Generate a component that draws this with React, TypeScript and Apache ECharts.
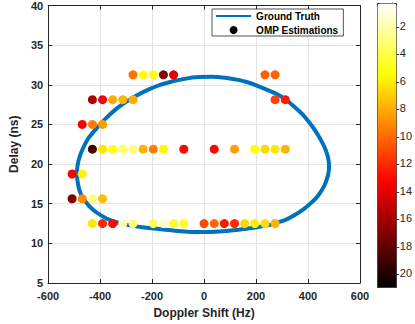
import React, { useEffect, useRef } from "react";
import * as echarts from "echarts";

// Ground truth curve (Doppler Hz, Delay ns)
const curveDoppler = [
  -490, -486, -476, -460, -444, -414, -380, -340, -297, -254, -210, -169, -120, -70, -20, 30, 80, 125, 161, 215,
  272, 310, 345, 378, 406, 432, 455, 470, 479, 481, 476, 463, 445, 431, 405, 382, 350, 320, 290, 259, 198, 150,
  113, 60, 15, -47, -100, -157, -230, -291, -330, -359, -395, -426, -452, -474, -484, -490,
];
const curveDelay = [
  18.7, 20.0, 21.2, 22.4, 23.3, 24.5, 25.7, 26.9, 27.9, 28.75, 29.45, 29.98, 30.45, 30.78, 30.97, 31.02, 30.9,
  30.65, 30.38, 29.75, 28.95, 28.25, 27.3, 26.3, 25.2, 24.0, 22.7, 21.6, 20.5, 19.6, 18.5, 17.3, 16.3, 15.7, 14.9,
  14.3, 13.6, 13.06, 12.7, 12.36, 12.0, 11.8, 11.65, 11.5, 11.42, 11.42, 11.55, 11.75, 12.0, 12.3, 12.6, 12.9,
  13.5, 14.2, 15.1, 16.2, 17.3, 18.7,
];

// OMP estimations: Doppler (Hz), Delay (ns), Power
const ompDoppler = [
  // 31.25 ns
  -273.4, -234.4, -195.3, -156.3, -117.2, 234.4, 273.4,
  // 28.125 ns
  -429.7, -390.6, -351.6, -312.5, -273.4, 273.4, 312.5,
  // 25 ns
  -468.8, -429.7, -390.6,
  // 21.875 ns
  -429.7, -390.6, -351.6, -312.5, -273.4, -234.4, -195.3, -156.3, -78.1, 39.1, 117.2, 195.3, 234.4, 273.4, 312.5,
  // 18.75 ns
  -507.8, -468.8,
  // 15.625 ns
  -507.8, -468.8, -429.7, -390.6,
  // 12.5 ns
  -429.7, -390.6, -351.6, -312.5, -273.4, -195.3, -156.3, -117.2, -78.1, 0, 39.1, 78.1, 117.2, 156.3, 195.3, 234.4, 273.4,
];
const ompDelay = [
  31.25, 31.25, 31.25, 31.25, 31.25, 31.25, 31.25,
  28.125, 28.125, 28.125, 28.125, 28.125, 28.125, 28.125,
  25, 25, 25,
  21.875, 21.875, 21.875, 21.875, 21.875, 21.875, 21.875, 21.875, 21.875, 21.875, 21.875, 21.875, 21.875, 21.875, 21.875,
  18.75, 18.75,
  15.625, 15.625, 15.625, 15.625,
  12.5, 12.5, 12.5, 12.5, 12.5, 12.5, 12.5, 12.5, 12.5, 12.5, 12.5, 12.5, 12.5, 12.5, 12.5, 12.5, 12.5,
];
const ompPower = [
  -9.8, -5.5, -5.3, -17, -14.2, -10.3, -10.3,
  -15.8, -13.4, -8, -7.8, -8, -11.3, -12.6,
  -13.5, -9.5, -8.5,
  -19, -6.3, -5.2, -3.5, -3, -7.8, -9.4, -5.8, -13.2, -13, -8.4, -5.5, -6.7, -6.2, -7.8,
  -13.3, -6,
  -17, -9, -3, -7.5,
  -6.2, -12, -13, -1.8, -3.2, -4, -1.5, -4.8, -5, -11, -10, -12.5, -12, -6.8, -6, -6.5, -7.8,
];

const colorbarTicks = [-20, -18, -16, -14, -12, -10, -8, -6, -4, -2];
const hotColors = ["#000000", "#550000", "#aa0000", "#ff0000", "#ff5500", "#ffaa00", "#ffff00", "#ffff80", "#ffffff"];

const FONT = "'Liberation Sans', Arial, Helvetica, sans-serif";
const AX = "#262626";

export default function App() {
  const ref = useRef<HTMLDivElement>(null);
  useEffect(() => {
    document.body.style.margin = "0";
    const chart = echarts.init(ref.current!, null, { renderer: "svg" });
    const curve = curveDoppler.map((d, i) => [d, curveDelay[i]]);
    const pts = ompDoppler.map((d, i) => [d, ompDelay[i], ompPower[i]]);
    const tickLabel = { fontFamily: FONT, fontWeight: "bold" as const, fontSize: 11, color: AX };
    chart.setOption({
      animation: false,
      backgroundColor: "#fff",
      textStyle: { fontFamily: FONT },
      grid: [
        { left: 33, top: 4, width: 327, height: 283, show: false },
        { left: 377, top: 3, width: 19, height: 284, show: false },
      ],
      xAxis: [
        {
          type: "value", gridIndex: 0, position: "bottom", min: -600, max: 600, interval: 200,
          name: "Doppler Shift (Hz)", nameLocation: "middle", nameGap: 24,
          nameTextStyle: { fontFamily: FONT, fontWeight: "bold", fontSize: 12, color: AX },
          axisLine: { show: true, onZero: false, lineStyle: { color: AX, width: 1 } },
          axisTick: { show: true, inside: true, length: 4, lineStyle: { color: AX } },
          axisLabel: { ...tickLabel, margin: 7 },
          splitLine: { show: true, lineStyle: { color: "#e3e3e3", width: 1 } },
        },
        {
          type: "value", gridIndex: 0, position: "top", min: -600, max: 600, interval: 200,
          axisLine: { show: true, onZero: false, lineStyle: { color: AX, width: 1 } },
          axisTick: { show: true, inside: true, length: 4, lineStyle: { color: AX } },
          axisLabel: { show: false }, splitLine: { show: false },
        },
        { type: "value", gridIndex: 1, min: 0, max: 1, show: false },
      ],
      yAxis: [
        {
          type: "value", gridIndex: 0, position: "left", min: 5, max: 40, interval: 5,
          name: "Delay (ns)", nameLocation: "middle", nameGap: 22, nameRotate: 90,
          nameTextStyle: { fontFamily: FONT, fontWeight: "bold", fontSize: 12, color: AX },
          axisLine: { show: true, onZero: false, lineStyle: { color: AX, width: 1 } },
          axisTick: { show: true, inside: true, length: 4, lineStyle: { color: AX } },
          axisLabel: { ...tickLabel, margin: 5 },
          splitLine: { show: true, lineStyle: { color: "#e3e3e3", width: 1 } },
        },
        {
          type: "value", gridIndex: 0, position: "right", min: 5, max: 40, interval: 5,
          axisLine: { show: true, onZero: false, lineStyle: { color: AX, width: 1 } },
          axisTick: { show: true, inside: true, length: 4, lineStyle: { color: AX } },
          axisLabel: { show: false }, splitLine: { show: false },
        },
        {
          type: "value", gridIndex: 1, position: "right", min: -21, max: -0.35,
          axisLine: { show: true, onZero: false, lineStyle: { color: AX, width: 1 } },
          axisTick: { show: true, inside: true, length: 3, customValues: colorbarTicks, lineStyle: { color: AX } },
          axisLabel: { customValues: colorbarTicks, fontFamily: FONT, fontSize: 11, color: AX, margin: 4 },
          splitLine: { show: false },
        },
      ],
      visualMap: {
        type: "continuous", min: -21, max: -0.35, dimension: 2, seriesIndex: 1,
        inRange: { color: hotColors }, calculable: false, hoverLink: false,
        left: 377, top: 3, itemWidth: 19, itemHeight: 284, padding: 0,
        text: ["", ""], showLabel: false,
        borderColor: AX, borderWidth: 1,
      },
      legend: {
        left: 212, top: 9, orient: "vertical", itemWidth: 35, itemHeight: 8, itemGap: 4,
        padding: [2, 5, 1, 3], backgroundColor: "#fff", borderColor: AX, borderWidth: 0.8,
        textStyle: { fontFamily: FONT, fontWeight: "bold", fontSize: 10, color: "#000" },
        data: [
          { name: "Ground Truth", itemStyle: { opacity: 0 }, lineStyle: { width: 2.2, color: "#0072BD" } },
          { name: "OMP Estimations", icon: "circle" },
        ],
      },
      series: [
        {
          name: "Ground Truth", type: "line", xAxisIndex: 0, yAxisIndex: 0, data: curve,
          symbol: "none", smooth: 0.3, z: 2,
          lineStyle: { color: "#0072BD", width: 4 }, itemStyle: { color: "#0072BD" },
        },
        {
          name: "OMP Estimations", type: "scatter", xAxisIndex: 0, yAxisIndex: 0, data: pts,
          symbol: "circle", symbolSize: 9, z: 3, itemStyle: { color: "#000", opacity: 1 },
        },
      ],
    });
    return () => chart.dispose();
  }, []);
  return <div ref={ref} style={{ width: 415, height: 324 }} />;
}
